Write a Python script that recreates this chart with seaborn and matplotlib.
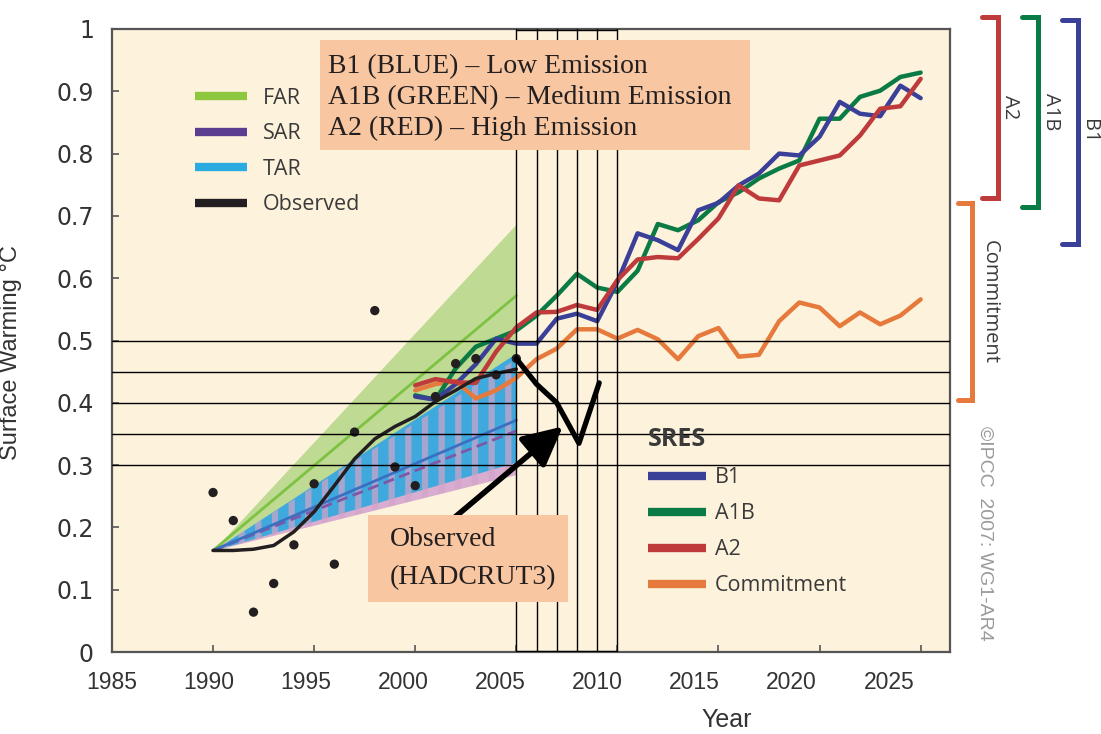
import matplotlib
matplotlib.use("Agg")
import matplotlib.pyplot as plt
import matplotlib.transforms as mtransforms
from matplotlib.lines import Line2D
from matplotlib.patches import Rectangle
from matplotlib.font_manager import FontProperties
import numpy as np
import pandas as pd
import seaborn as sns

# ---------------- data ----------------
sres_years = list(range(2000, 2026))
b1_values = [0.410, 0.405, 0.430, 0.462, 0.503, 0.495, 0.495, 0.535, 0.543, 0.531,
             0.594, 0.672, 0.661, 0.645, 0.709, 0.721, 0.749, 0.768, 0.800, 0.797,
             0.827, 0.883, 0.864, 0.860, 0.909, 0.889]
a1b_values = [0.412, 0.405, 0.455, 0.490, 0.503, 0.516, 0.540, 0.572, 0.607, 0.585,
              0.578, 0.612, 0.687, 0.677, 0.693, 0.722, 0.738, 0.760, 0.776, 0.789,
              0.856, 0.856, 0.891, 0.901, 0.923, 0.930]
a2_values = [0.428, 0.438, 0.433, 0.432, 0.482, 0.521, 0.545, 0.546, 0.557, 0.549,
             0.597, 0.630, 0.634, 0.632, 0.663, 0.696, 0.749, 0.728, 0.725, 0.781,
             0.789, 0.797, 0.829, 0.872, 0.876, 0.920]
commitment_values = [0.420, 0.430, 0.435, 0.407, 0.420, 0.440, 0.470, 0.487, 0.518, 0.518,
                     0.503, 0.517, 0.502, 0.470, 0.507, 0.520, 0.474, 0.477, 0.531, 0.561,
                     0.553, 0.523, 0.545, 0.526, 0.540, 0.566]

obs_years = list(range(1990, 2006))
obs_annual = [0.256, 0.211, 0.064, 0.110, 0.172, 0.270, 0.141, 0.353, 0.548, 0.297,
              0.267, 0.410, 0.463, 0.471, 0.445, 0.471]
obs_smooth = [0.163, 0.163, 0.165, 0.171, 0.193, 0.225, 0.267, 0.310, 0.342, 0.362,
              0.378, 0.402, 0.420, 0.439, 0.447, 0.454]

hand_years = [2005, 2006, 2007, 2008.1, 2009.1]
hand_values = [0.471, 0.430, 0.400, 0.335, 0.432]

fan_years = [1990, 2005]
far_low, far_mid, far_high = [0.163, 0.450], [0.163, 0.572], [0.163, 0.687]
sar_low, sar_mid, sar_high = [0.163, 0.285], [0.163, 0.355], [0.163, 0.470]
tar_low, tar_mid, tar_high = [0.163, 0.305], [0.163, 0.372], [0.163, 0.480]

h_levels = [0.30, 0.35, 0.40, 0.45, 0.50]
v_years = [2005, 2006, 2007, 2008, 2009, 2010]

bracket_names = ["A2", "A1B", "B1", "Commitment"]
bracket_low = [0.728, 0.715, 0.655, 0.404]
bracket_high = [1.020, 1.020, 1.015, 0.720]

arrow_tail = (2001.8, 0.212)
arrow_head = (2007.3, 0.362)

x_ticks = [1985, 1990, 1995, 2000, 2005, 2010, 2015, 2020, 2025]
y_ticks = [0, 0.1, 0.2, 0.3, 0.4, 0.5, 0.6, 0.7, 0.8, 0.9, 1.0]
y_ticklabels = ["0", "0.1", "0.2", "0.3", "0.4", "0.5", "0.6", "0.7", "0.8", "0.9", "1"]

scenario_lines = ["B1 (BLUE) \u2013 Low Emission",
                  "A1B (GREEN) \u2013 Medium Emission",
                  "A2 (RED) \u2013 High Emission"]
observed_lines = ["Observed", "(HADCRUT3)"]

# ---------------- style ----------------
sns.set_style("ticks")
plt.rcParams["font.family"] = ["DejaVu Sans"]
plt.rcParams["hatch.linewidth"] = 4.5

NARROW = ["Liberation Sans", "DejaVu Sans"]
MYRIAD = ["Open Sans", "DejaVu Sans"]
SERIF = ["Liberation Serif", "DejaVu Serif"]

col = {"B1": "#3A3F98", "A1B": "#0B7B45", "A2": "#BE3A3B", "Commitment": "#E67A3C"}

fig = plt.figure(figsize=(11.01, 7.34), dpi=100)
ax = fig.add_axes([0.1017, 0.1117, 0.7611, 0.8488])
ax.set_facecolor("#FDF2DC")

# ---------------- fans ----------------
ax.fill_between(fan_years, far_low, far_high, color="#BFDA93", lw=0, zorder=1)
ax.fill_between(fan_years, sar_low, sar_high, color="#D9ADD0", lw=0, zorder=1.2)
ax.fill_between(fan_years, tar_low, tar_high, color="#3FA9DD", lw=0, zorder=1.4)
ax.fill_between(fan_years, sar_low, sar_high, facecolor="none", edgecolor="#D3A4C9",
                hatch="|", lw=0, zorder=1.6, alpha=0.7)
sns.lineplot(x=fan_years, y=far_mid, color="#7DC242", lw=2, ax=ax, zorder=3)
sns.lineplot(x=fan_years, y=sar_mid, color="#7E58A6", lw=2, ls=(0, (4, 2)), ax=ax, zorder=3)
sns.lineplot(x=fan_years, y=tar_mid, color="#3B6FC1", lw=2, ax=ax, zorder=3)

# ---------------- SRES ----------------
df = pd.DataFrame({
    "year": sres_years * 4,
    "value": commitment_values + a1b_values + b1_values + a2_values,
    "scenario": (["Commitment"] * 26 + ["A1B"] * 26 + ["B1"] * 26 + ["A2"] * 26),
})
sns.lineplot(data=df, x="year", y="value", hue="scenario", palette=col,
             hue_order=["Commitment", "A1B", "B1", "A2"], lw=3.2, legend=False,
             estimator=None, sort=False, ax=ax, zorder=4)

# ---------------- observed ----------------
sns.lineplot(x=obs_years, y=obs_smooth, color="#231F20", lw=2.5, ax=ax, zorder=5)
sns.scatterplot(x=obs_years, y=obs_annual, color="#231F20", s=45, edgecolor="none",
                ax=ax, zorder=5.5)

# ---------------- black grid box ----------------
for h in h_levels:
    ax.axhline(h, color="black", lw=1.0, zorder=6)
for v in v_years:
    ax.axvline(v, color="black", lw=1.0, zorder=6)
ax.hlines([0.002, 0.998], v_years[0], v_years[-1], color="black", lw=1.0, zorder=6)

# hand drawn observed continuation
sns.lineplot(x=hand_years, y=hand_values, color="black", lw=3.8, estimator=None,
             sort=False, ax=ax, zorder=8)
ax.annotate("", xy=arrow_head, xytext=arrow_tail, zorder=8,
            arrowprops=dict(arrowstyle="-|>,head_length=0.8,head_width=0.4",
                            mutation_scale=30, lw=4, color="black",
                            shrinkA=0, shrinkB=0))

# ---------------- text boxes ----------------
ax.add_patch(Rectangle((0.248, 0.806), 0.513, 0.176, transform=ax.transAxes,
                       facecolor="#F8C6A0", edgecolor="none", zorder=9))
for i, t in enumerate(scenario_lines):
    ax.text(0.258, 0.939 - i * 0.049, t, transform=ax.transAxes, ha="left", va="center",
            fontsize=20, family=SERIF, color="#231F20", zorder=10)
ax.add_patch(Rectangle((0.305, 0.080), 0.239, 0.140, transform=ax.transAxes,
                       facecolor="#F8C6A0", edgecolor="none", zorder=9))
for i, t in enumerate(observed_lines):
    ax.text(0.332, 0.180 - i * 0.061, t, transform=ax.transAxes, ha="left", va="center",
            fontsize=20, family=SERIF, color="#231F20", zorder=10)

# ---------------- legends ----------------
leg_font = FontProperties(family=MYRIAD, size=15.5)
h1 = [Line2D([], [], color=c, lw=6, solid_capstyle="butt")
      for c in ["#8DC63F", "#5C3E91", "#29ABE2", "#231F20"]]
leg1 = ax.legend(h1, ["FAR", "SAR", "TAR", "Observed"], loc="upper left",
                 bbox_to_anchor=(0.099, 0.906), frameon=False, borderpad=0,
                 borderaxespad=0, handlelength=2.4, handletextpad=0.75,
                 labelspacing=0.68, prop=leg_font, labelcolor="#3a3a3a")
leg1.set_zorder(7)
ax.add_artist(leg1)

h2 = [Line2D([], [], color=col[k], lw=6, solid_capstyle="butt")
      for k in ["B1", "A1B", "A2", "Commitment"]]
leg2 = ax.legend(h2, ["B1", "A1B", "A2", "Commitment"], loc="upper left",
                 bbox_to_anchor=(0.640, 0.361), frameon=False, borderpad=0,
                 borderaxespad=0, handlelength=2.7, handletextpad=0.4,
                 labelspacing=0.70, prop=leg_font, labelcolor="#3a3a3a",
                 title="SRES", alignment="left",
                 title_fontproperties=FontProperties(family=MYRIAD, size=18, weight="bold"))
leg2.get_title().set_color("#3a3a3a")
leg2.set_zorder(7)

# ---------------- brackets ----------------
btrans = mtransforms.blended_transform_factory(ax.transAxes, ax.transData)
bracket_x = {"A2": (1.038, 1.057, 1.072), "A1B": (1.086, 1.105, 1.121),
             "B1": (1.134, 1.153, 1.166), "Commitment": (1.0095, 1.026, 1.047)}
for name, lo, hi in zip(bracket_names, bracket_low, bracket_high):
    xl, xr, xt = bracket_x[name]
    ax.plot([xl, xr, xr, xl], [hi, hi, lo, lo], color=col[name], lw=3.6,
            transform=btrans, clip_on=False, solid_joinstyle="miter")
    ax.text(xt, (lo + hi) / 2, name, transform=btrans, rotation=-90, ha="center",
            va="center", fontsize=14.5, family=MYRIAD, color="#3a3a3a")
ax.text(1.041, 0.19, "\u00a9IPCC  2007: WG1-AR4", transform=ax.transAxes, rotation=-90,
        ha="center", va="center", fontsize=14, family=NARROW, color="#9a9a9a")

# ---------------- axes ----------------
ax.set_xlim(1985, 2026.45)
ax.set_ylim(0, 1.0)
ax.set_yticks(y_ticks, labels=y_ticklabels)
ax.set_xticks(x_ticks, labels=[])
ax.tick_params(axis="both", direction="in", length=5, width=1.2, color="#555555")
ax.tick_params(axis="y", pad=13, labelsize=17, labelcolor="#333333")
for s in ax.spines.values():
    s.set_color("#555555")
    s.set_linewidth(1.6)

k = 101.5 / 97.5
sec = ax.secondary_xaxis("bottom", functions=(lambda x: 1985 + (x - 1985) * k,
                                              lambda v: 1985 + (v - 1985) / k))
sec.set_xticks(x_ticks, labels=[str(t) for t in x_ticks])
sec.tick_params(length=0, pad=14, labelsize=16.5, labelcolor="#333333")
sec.spines["bottom"].set_visible(False)
for lab in sec.get_xticklabels():
    lab.set_family(NARROW)

ax.set_ylabel("Surface Warming \u00b0C", family=NARROW, fontsize=17, color="#333333")
ax.yaxis.set_label_coords(-0.107, 0.48)
ax.set_xlabel("")
fig.text(727 / 1101, 1 - 720 / 734, "Year", ha="center", va="center",
         family=NARROW, fontsize=18, color="#333333")

fig.savefig("out.png", dpi=100, facecolor="white")
